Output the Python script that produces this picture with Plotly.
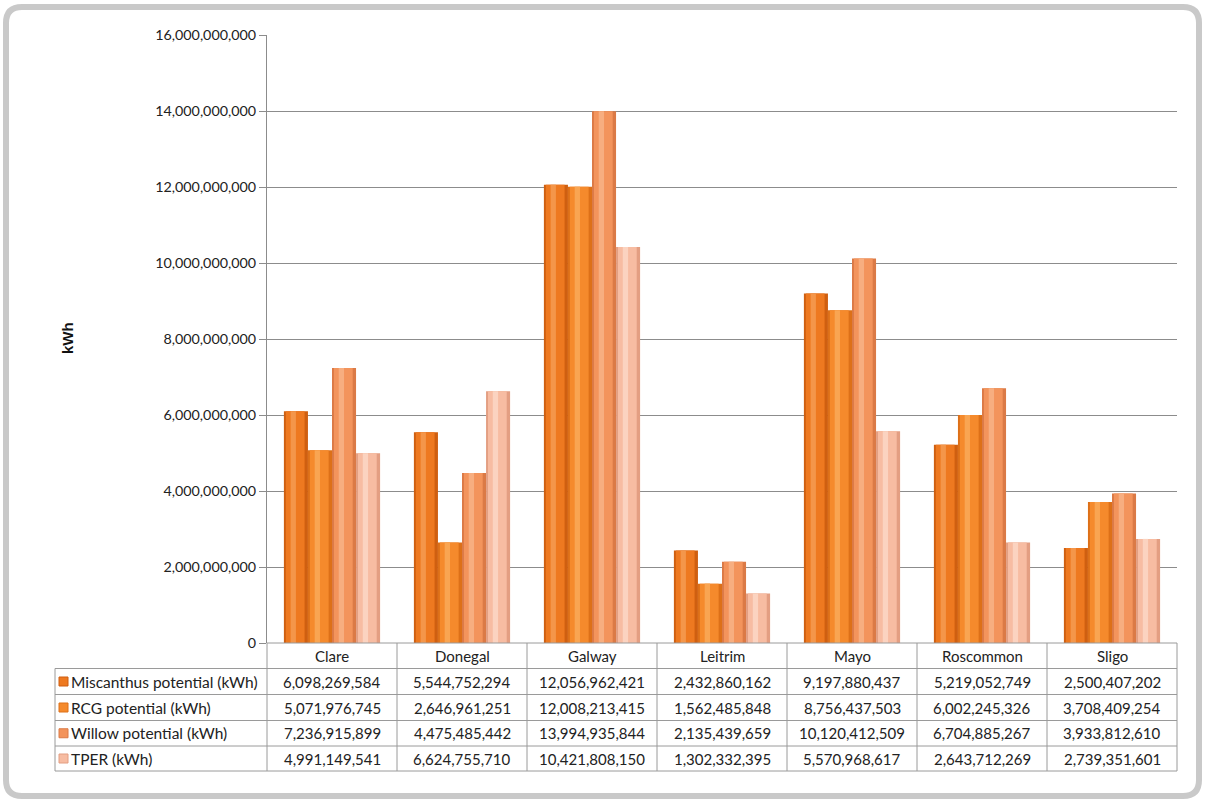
import plotly.graph_objects as go

# ---------------- data ----------------
counties = ["Clare", "Donegal", "Galway", "Leitrim", "Mayo", "Roscommon", "Sligo"]
series_names = ["Miscanthus potential (kWh)", "RCG potential (kWh)",
                "Willow potential (kWh)", "TPER (kWh)"]
miscanthus = [6098269584, 5544752294, 12056962421, 2432860162, 9197880437, 5219052749, 2500407202]
rcg = [5071976745, 2646961251, 12008213415, 1562485848, 8756437503, 6002245326, 3708409254]
willow = [7236915899, 4475485442, 13994935844, 2135439659, 10120412509, 6704885267, 3933812610]
tper = [4991149541, 6624755710, 10421808150, 1302332395, 5570968617, 2643712269, 2739351601]
y_ticks = [0, 2e9, 4e9, 6e9, 8e9, 10e9, 12e9, 14e9, 16e9]
y_title = "kWh"

series_values = [miscanthus, rcg, willow, tper]
main_colors = ["#EE7920", "#F58A2C", "#F3945C", "#F7BCA2"]
edge_colors = ["#CF5F10", "#DD7018", "#DB7A46", "#E39E82"]
hi_colors = ["#F4964A", "#F9A552", "#F7AE80", "#FBD3C0"]

# ---------------- layout geometry (pixels) ----------------
FW, FH = 1205, 801
L, R, T, B = 267, 1177, 35, 643
W, H = R - L, B - T


def px(x):
    return (x - L) / W


def py(y):
    return (B - y) / H


fig = go.Figure()

n = len(series_names)
bw = 0.185
group_left = -bw * n / 2
for i, (name, vals) in enumerate(zip(series_names, series_values)):
    off = group_left + i * bw
    fig.add_trace(go.Bar(x=counties, y=vals, name=name, width=bw, offset=off,
                         marker=dict(color=edge_colors[i], line=dict(width=0)),
                         showlegend=False))
    fig.add_trace(go.Bar(x=counties, y=vals, name=name, width=bw * 0.78, offset=off + bw * 0.08,
                         marker=dict(color=main_colors[i], line=dict(width=0)),
                         showlegend=False, hoverinfo="skip"))
    fig.add_trace(go.Bar(x=counties, y=vals, name=name, width=bw * 0.22, offset=off + bw * 0.28,
                         marker=dict(color=hi_colors[i], line=dict(width=0)),
                         showlegend=False, hoverinfo="skip"))

grid_c = "#8C8C8C"
FONT = "Lato, Open Sans, sans-serif"
fig.update_layout(
    width=FW, height=FH,
    margin=dict(l=L, r=FW - R, t=T, b=FH - B),
    barmode="overlay",
    paper_bgcolor="white", plot_bgcolor="white",
    font=dict(family=FONT, size=14, color="#222222"),
    xaxis=dict(range=[-0.5, len(counties) - 0.5], showticklabels=False, showgrid=False,
               zeroline=False, showline=False, ticks=""),
    yaxis=dict(range=[0, 16e9], tickvals=y_ticks, tickformat=",d", showgrid=True,
               gridcolor=grid_c, gridwidth=1, zeroline=False, showline=True,
               linecolor=grid_c, linewidth=1, ticks="outside", ticklen=7,
               tickcolor=grid_c, tickfont=dict(size=14.3, color="#222")),
)

shapes = []
annotations = []

# outer rounded frame
r = 16
x0, y0, x1, y1 = 6, 7, 1199, 796
path = (f"M {px(x0 + r)},{py(y0)} L {px(x1 - r)},{py(y0)} Q {px(x1)},{py(y0)} {px(x1)},{py(y0 + r)} "
        f"L {px(x1)},{py(y1 - r)} Q {px(x1)},{py(y1)} {px(x1 - r)},{py(y1)} "
        f"L {px(x0 + r)},{py(y1)} Q {px(x0)},{py(y1)} {px(x0)},{py(y1 - r)} "
        f"L {px(x0)},{py(y0 + r)} Q {px(x0)},{py(y0)} {px(x0 + r)},{py(y0)} Z")
shapes.append(dict(type="path", xref="paper", yref="paper", path=path,
                   line=dict(color="#C9C9C9", width=6)))

# data table
tab_c = "#9A9A9A"
col_w = W / len(counties)
row_lines = [643, 668.5, 694.5, 720.5, 746, 771]
label_left = 55
shapes.append(dict(type="line", xref="paper", yref="paper", x0=px(L), x1=px(R),
                   y0=py(row_lines[0]), y1=py(row_lines[0]), line=dict(color=tab_c, width=1)))
for yy in row_lines[1:]:
    shapes.append(dict(type="line", xref="paper", yref="paper", x0=px(label_left), x1=px(R),
                       y0=py(yy), y1=py(yy), line=dict(color=tab_c, width=1)))
shapes.append(dict(type="line", xref="paper", yref="paper", x0=px(label_left), x1=px(label_left),
                   y0=py(row_lines[1]), y1=py(row_lines[-1]), line=dict(color=tab_c, width=1)))
for k in range(len(counties) + 1):
    xx = L + k * col_w
    shapes.append(dict(type="line", xref="paper", yref="paper", x0=px(xx), x1=px(xx),
                       y0=py(row_lines[0]), y1=py(row_lines[-1]), line=dict(color=tab_c, width=1)))

TS = 15
for k, c in enumerate(counties):
    annotations.append(dict(xref="paper", yref="paper", x=px(L + (k + 0.5) * col_w),
                            y=py((row_lines[0] + row_lines[1]) / 2), text=c, showarrow=False,
                            font=dict(size=TS, color="#222"), xanchor="center", yanchor="middle"))
for i, (name, vals) in enumerate(zip(series_names, series_values)):
    yc = (row_lines[i + 1] + row_lines[i + 2]) / 2
    shapes.append(dict(type="rect", xref="paper", yref="paper", x0=px(59), x1=px(68),
                       y0=py(yc - 4.5), y1=py(yc + 4.5), fillcolor=main_colors[i],
                       line=dict(color=edge_colors[i], width=1)))
    annotations.append(dict(xref="paper", yref="paper", x=px(69), y=py(yc), text=name,
                            showarrow=False, xanchor="left", yanchor="middle",
                            font=dict(size=15.5, color="#222")))
    for k, v in enumerate(vals):
        annotations.append(dict(xref="paper", yref="paper", x=px(L + (k + 0.5) * col_w), y=py(yc),
                                text=f"{v:,}", showarrow=False, xanchor="center", yanchor="middle",
                                font=dict(size=TS, color="#222")))

annotations.append(dict(xref="paper", yref="paper", x=px(67), y=py(338), text=f"<b>{y_title}</b>",
                        showarrow=False, textangle=-90, xanchor="center", yanchor="middle",
                        font=dict(family="Liberation Sans, Arial, sans-serif", size=15, color="#111")))

fig.update_layout(shapes=shapes, annotations=annotations)
fig.write_html("out.html", config={"displayModeBar": False},
               post_script="document.body.style.margin='0';")
